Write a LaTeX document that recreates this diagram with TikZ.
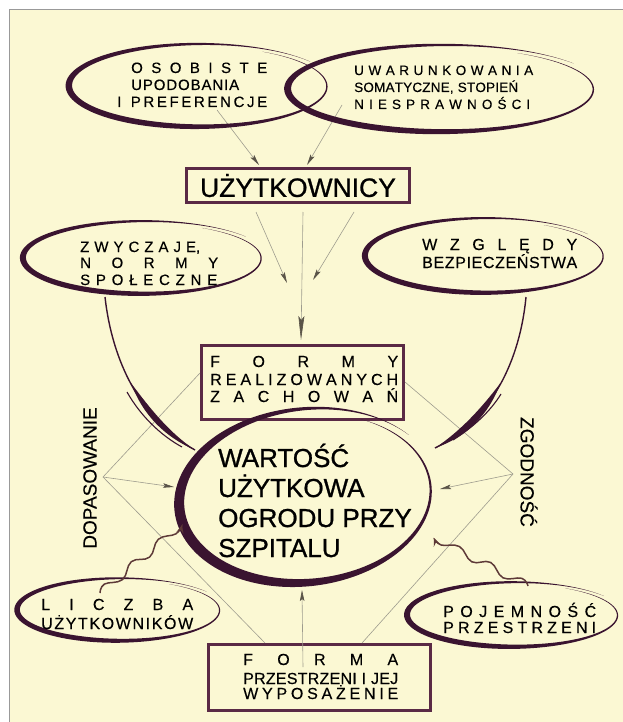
\documentclass[tikz,border=0pt]{standalone}
\usepackage{fontspec}
\setmainfont[FakeBold=0.35]{Liberation Sans}
\newfontfamily\heavyfont[FakeBold=0.9]{Liberation Sans}
\usetikzlibrary{arrows.meta}
\definecolor{cream}{HTML}{FBF8D3}
\definecolor{maroon}{HTML}{5A2A45}
\definecolor{brushc}{HTML}{3A1430}
\definecolor{lgray}{HTML}{9E9C8E}
\definecolor{hgray}{HTML}{5A5448}
\definecolor{wavyc}{HTML}{5E3A38}
\makeatletter
\newcommand\spr[2]{\makebox[#1][s]{\def\spsep{}\@tfor\spch:=#2\do{\spsep\spch\def\spsep{\hfil}}}}
\makeatother
% brush ellipse: cx, cy, rx, ry, max width, rotation
\newcommand\brushell[6]{%
\begin{scope}[shift={(#1,#2)},rotate=#6]
\fill[brushc] plot[domain=-60:325,samples=160,variable=\t]
 ({(#3*(0.965+0.0001818*(\t+60))+0.5*#5*sin(0.4675325*(\t+60))*(0.7-0.3*cos(\t)))*cos(\t)},
  {(#4*(0.965+0.0001818*(\t+60))+0.5*#5*sin(0.4675325*(\t+60))*(0.7-0.3*cos(\t)))*sin(\t)})
 -- plot[domain=325:-60,samples=160,variable=\t]
 ({(#3*(0.965+0.0001818*(\t+60))-0.5*#5*sin(0.4675325*(\t+60))*(0.7-0.3*cos(\t)))*cos(\t)},
  {(#4*(0.965+0.0001818*(\t+60))-0.5*#5*sin(0.4675325*(\t+60))*(0.7-0.3*cos(\t)))*sin(\t)}) -- cycle;
\end{scope}}
\begin{document}
\begin{tikzpicture}[x=1pt,y=-1pt,
  sm/.style={inner sep=0pt,anchor=base west,font=\fontsize{15}{16}\selectfont},
  smb/.style={inner sep=0pt,anchor=base west,font=\fontsize{13.5}{16}\selectfont},
  md/.style={inner sep=0pt,anchor=base west,font=\fontsize{16}{17}\selectfont},
  mdb/.style={inner sep=0pt,anchor=base west,font=\fontsize{16}{18}\selectfont},
  big/.style={inner sep=0pt,anchor=base west,font=\heavyfont\fontsize{26}{30}\selectfont},
  boxst/.style={draw=maroon,line width=2.6pt,inner sep=0pt},
  side/.style={inner sep=0pt,font=\fontsize{19}{19}\selectfont},
  garrow/.style={draw=lgray,line width=0.6pt,-{Stealth[length=11pt,width=4.5pt,inset=2pt,color=hgray]}},
  gline/.style={draw=lgray,line width=0.6pt},
  brushline/.style={draw=brushc,line width=1.4pt},
  wavy/.style={draw=wavyc,line width=1.5pt,-{Stealth[length=8pt,width=7pt,inset=3pt]}}]
\useasboundingbox (0,0) rectangle (623,722);
\fill[white] (0,0) rectangle (623,722);
\fill[cream] (9,9) rectangle (623,722);
\draw[gray!80,line width=0.8pt] (9,722) -- (9,9) -- (623,9);

% ---- boxes
\node[boxst,minimum width=223pt,minimum height=34pt,font=\heavyfont\fontsize{26.5}{30}\selectfont] (uzy) at (298,185.5) {UŻYTKOWNICY};
\node[boxst,minimum width=202pt,minimum height=74pt] (formy) at (302.5,382.5) {};
\node[boxst,minimum width=222pt,minimum height=66pt] (forma) at (319.5,677.5) {};

% ---- coordinates
\coordinate (e1s) at (217,110);
\coordinate (e2s) at (342,105);
\coordinate (u1) at (259,165);
\coordinate (u2) at (307,165);
\coordinate (d1) at (256,212);
\coordinate (d2) at (303,212);
\coordinate (d3) at (354,212);
\coordinate (d1e) at (287,283);
\coordinate (d2e) at (301,340);
\coordinate (d3e) at (313,280);
\coordinate (apL) at (103,477);
\coordinate (apR) at (513,474);
\coordinate (fyL) at (200,373);
\coordinate (fyR) at (405,382);
\coordinate (faL) at (265,643);
\coordinate (faR) at (362,643);
\coordinate (wL) at (174,487);
\coordinate (wR) at (440,489);
\coordinate (faS) at (303,667);
\coordinate (faE) at (302,590);

% ---- gray lines and arrows
\draw[garrow] (e1s) -- (u1);
\draw[garrow] (e2s) -- (u2);
\draw[garrow] (d1) -- (d1e);
\draw[draw=lgray,line width=0.6pt,-{Stealth[length=24pt,width=6pt,inset=4pt,color=hgray]}] (d2) -- (d2e);
\draw[garrow] (d3) -- (d3e);
\draw[gline] (fyL) -- (apL) -- (faL);
\draw[gline] (fyR) -- (apR) -- (faR);
\draw[garrow] (apL) -- (wL);
\draw[garrow] (apR) -- (wR);
\draw[garrow] (faS) -- (faE);

% ---- brush ellipses
\brushell{200}{86}{130}{41}{7}{0}
\brushell{443}{89}{154}{43}{7.5}{0}
\brushell{144}{258}{120}{36}{6.5}{0}
\brushell{486}{256}{120}{37}{6.5}{0}
\brushell{120}{610}{102}{31}{6}{0}
\brushell{514}{615}{106}{32}{6.5}{0}
\brushell{307}{497}{127}{86}{11}{6}

% ---- brush arrows
\coordinate (bLs) at (105,297);
\coordinate (bLe) at (195,450);
\coordinate (bRs) at (526,297);
\coordinate (bRe) at (435,448);
\draw[brushline] (bLs) .. controls (112,360) and (140,420) .. (bLe);
\fill[brushc] (131,383) .. controls (150.3,409) and (169.6,432.9) .. (bLe)
   .. controls (165.4,437.1) and (143.2,416) .. (131,383) -- cycle;
\draw[brushc,line width=1.1pt] (127,392) .. controls (140,415) and (160,435) .. (182,447);
\draw[brushline] (bRs) .. controls (520,360) and (492,420) .. (bRe);
\fill[brushc] (500.5,383) .. controls (488.3,415.6) and (466.4,437) .. (bRe)
   .. controls (460.6,431) and (481.2,408.4) .. (500.5,383) -- cycle;
\draw[brushc,line width=1.1pt] (501,394) .. controls (490,412) and (472,428) .. (453,440);

% ---- wavy arrows
\coordinate (lzs) at (100,593);
\coordinate (lze) at (182,525);
\coordinate (pjs) at (528,586);
\coordinate (pje) at (434,538);
\draw[wavy] plot[smooth,tension=0.7] coordinates {(lzs) (104.4,584.1) (122.6,579.5) (131.3,561.7) (149.6,557.1) (158.3,539.3) (175.8,533.9) (lze)};
\draw[wavy] plot[smooth,tension=0.7] coordinates {(pjs) (521.8,578.3) (503,577.8) (490.6,562.4) (471.8,561.8) (459.4,546.5) (441.1,545) (pje)};

% ---- texts
\node[sm] (t1a) at (131,73) {\spr{136pt}{OSOBISTE}};
\node[sm] (t1b) at (131,90) {\spr{108pt}{UPODOBANIA}};
\node[sm] (t1c) at (117,107) {\spr{150pt}{I~PREFERENCJE}};
\node[smb] (t2a) at (354,75) {\spr{179pt}{UWARUNKOWANIA}};
\node[smb] (t2b) at (354,92) {\spr{164pt}{SOMATYCZNE,~STOPIEŃ}};
\node[smb] (t2c) at (354,109) {\spr{176pt}{NIESPRAWNOŚCI}};
\node[sm] (t3a) at (80,252) {\spr{120pt}{ZWYCZAJ{E,}}};
\node[sm] (t3b) at (80,268) {\spr{138pt}{NORMY}};
\node[sm] (t3c) at (80,285) {\spr{137pt}{SPOŁECZNE}};
\node[md] (t4a) at (422,250) {\spr{155pt}{WZGLĘDY}};
\node[md] (t4b) at (422,268) {\spr{155pt}{BEZPIECZEŃSTWA}};
\node[md] (t5a) at (210,367) {\spr{188pt}{FORMY}};
\node[md] (t5b) at (210,385) {\spr{188pt}{REALIZOWANYCH}};
\node[md] (t5c) at (210,402) {\spr{188pt}{ZACHOWAŃ}};
\node[mdb] (t6a) at (243,665) {\spr{155pt}{FORMA}};
\node[mdb] (t6b) at (243,684) {\spr{155pt}{PRZESTRZENI~I~JEJ}};
\node[mdb] (t6c) at (243,699) {\spr{155pt}{WYPOSAŻENIE}};
\node[md] (t7a) at (41,610) {\spr{152pt}{LICZBA}};
\node[md] (t7b) at (41,629) {\spr{152pt}{UŻYTKOWNIKÓW}};
\node[md] (t8a) at (443,617) {\spr{153pt}{POJEMNOŚĆ}};
\node[md] (t8b) at (443,633) {\spr{153pt}{PRZESTRZENI}};
\node[big] (w1) at (218,467) {WARTOŚĆ};
\node[big] (w2) at (218,497) {UŻYTKOWA};
\node[big] (w3) at (218,527) {OGRODU PRZY};
\node[big] (w4) at (218,557) {SZPITALU};
\node[side,rotate=90] (dop) at (90,478) {DOPASOWANIE};
\node[side,rotate=-90] (zgo) at (529,472) {ZGODNOŚĆ};
\end{tikzpicture}
\end{document}
